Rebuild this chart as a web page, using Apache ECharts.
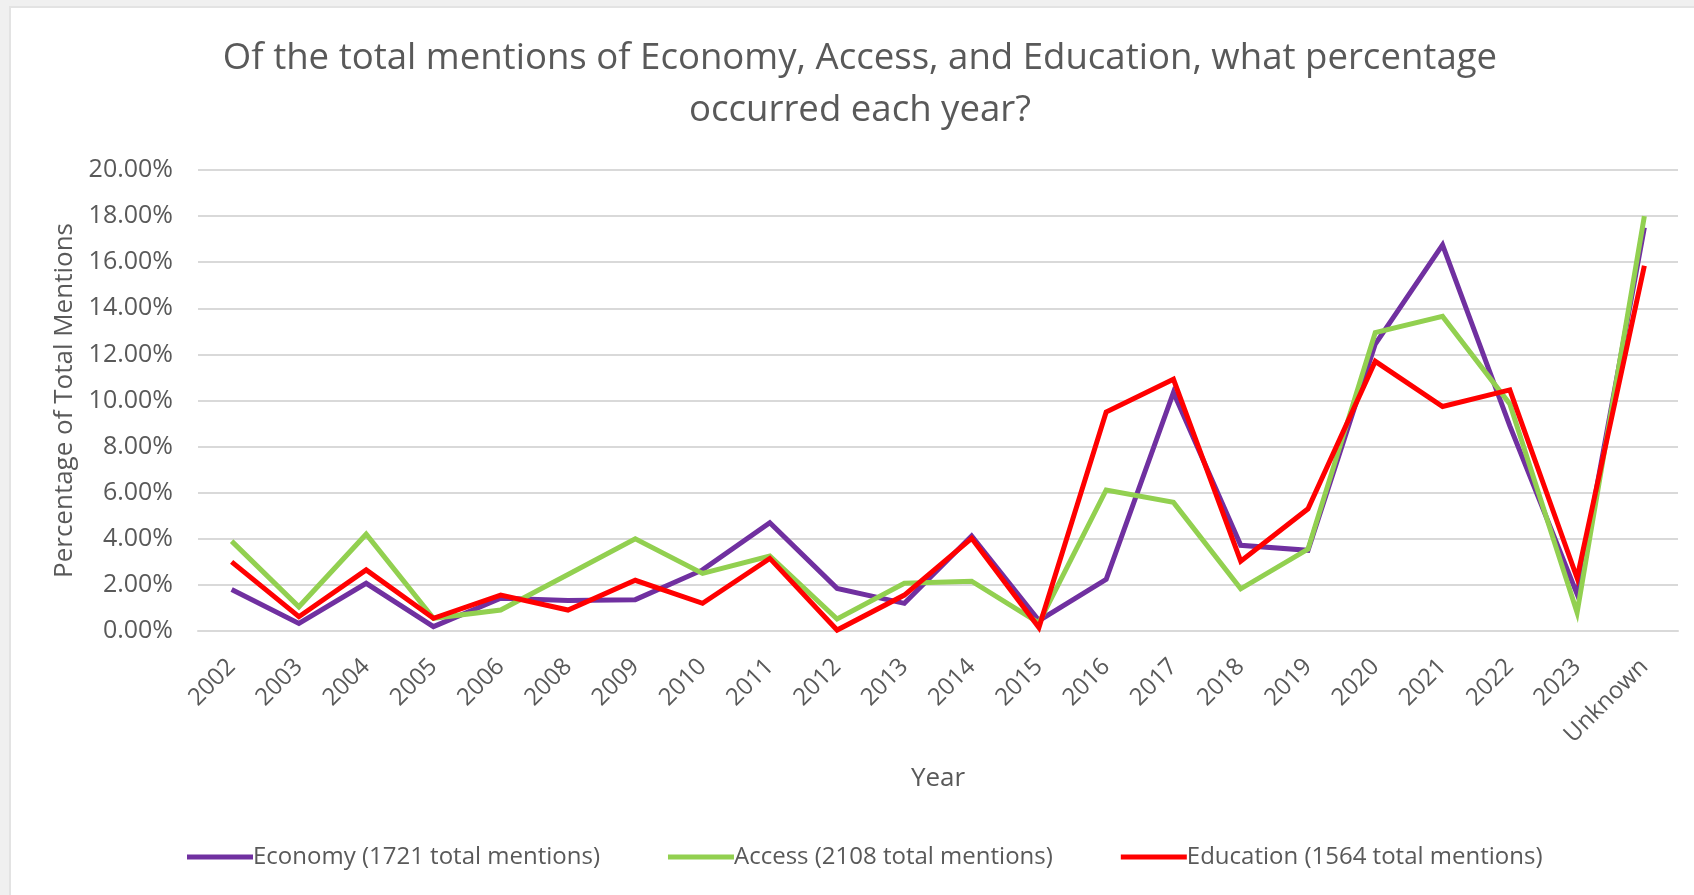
<!DOCTYPE html>
<html>
<head>
<meta charset="utf-8">
<script src="https://cdn.jsdelivr.net/npm/echarts@6/dist/echarts.min.js"></script>
<style>
  html, body { margin: 0; padding: 0; background: #f0f0f0; overflow: hidden; }
  #frame {
    position: absolute; left: 9px; top: 6px; width: 1700px; height: 900px;
    background: #ffffff; border: 2px solid #e3e3e3;
  }
  #chart { position: absolute; left: 0; top: 0; width: 1694px; height: 895px; }
</style>
</head>
<body>
<div id="frame"></div>
<div id="chart"></div>
<script>
const years = ['2002', '2003', '2004', '2005', '2006', '2008', '2009', '2010', '2011', '2012', '2013',
  '2014', '2015', '2016', '2017', '2018', '2019', '2020', '2021', '2022', '2023', 'Unknown'];

// percent of each topic's total mentions
const economy = [1.80, 0.33, 2.07, 0.19, 1.42, 1.32, 1.36, 2.65, 4.70, 1.85, 1.20,
  4.12, 0.45, 2.24, 10.35, 3.72, 3.50, 12.45, 16.75, 8.90, 1.60, 17.50];
const access = [3.90, 1.05, 4.20, 0.55, 0.91, 2.45, 4.00, 2.50, 3.25, 0.52, 2.07,
  2.16, 0.35, 6.12, 5.58, 1.83, 3.55, 12.95, 13.65, 9.85, 0.80, 18.00];
const education = [3.00, 0.62, 2.65, 0.55, 1.56, 0.91, 2.20, 1.20, 3.15, 0.04, 1.56,
  4.02, 0.15, 9.50, 10.92, 3.03, 5.30, 11.70, 9.74, 10.46, 2.30, 15.85];

const seriesNames = ['Economy (1721 total mentions)', 'Access (2108 total mentions)', 'Education (1564 total mentions)'];
const colors = ['#7030a0', '#92d050', '#ff0000'];

const font = '"Open Sans", "Noto Sans", sans-serif';
const textColor = '#595959';

const chart = echarts.init(document.getElementById('chart'), null, { renderer: 'canvas' });

const makeLine = (name, data, color) => ({
  name,
  type: 'line',
  data,
  symbol: 'none',
  lineStyle: { color, width: 5, join: 'miter' },
  itemStyle: { color },
});

chart.setOption({
  animation: false,
  textStyle: { fontFamily: font },
  title: {
    text: 'Of the total mentions of Economy, Access, and Education, what percentage\noccurred each year?',
    left: 855,
    textAlign: 'center',
    top: 28,
    textStyle: {
      fontFamily: font, fontSize: 36.6, fontWeight: 'normal', color: textColor, lineHeight: 52,
    },
  },
  legend: {
    left: 187,
    top: 845,
    padding: 0,
    itemWidth: 66,
    itemHeight: 5,
    itemGap: 68,
    icon: 'rect',
    textStyle: { fontFamily: font, fontSize: 24, color: textColor, padding: [0, 0, 0, -5] },
    data: seriesNames,
  },
  grid: { left: 198, right: 16, top: 170, bottom: 264 },
  xAxis: {
    type: 'category',
    data: years,
    boundaryGap: true,
    name: 'Year',
    nameLocation: 'middle',
    nameGap: 135,
    nameTextStyle: { fontFamily: font, fontSize: 26, color: textColor },
    axisLine: { lineStyle: { color: '#d9d9d9', width: 2 } },
    axisTick: { show: false },
    axisLabel: {
      rotate: 45, fontFamily: font, fontSize: 24, color: textColor, margin: 32, interval: 0,
    },
  },
  yAxis: {
    type: 'value',
    min: 0,
    max: 20,
    interval: 2,
    name: 'Percentage of Total Mentions',
    nameLocation: 'middle',
    nameGap: 115,
    nameTextStyle: { fontFamily: font, fontSize: 26, color: textColor },
    axisLine: { show: false },
    axisTick: { show: false },
    splitLine: { lineStyle: { color: '#d9d9d9', width: 2 } },
    axisLabel: {
      fontFamily: font, fontSize: 25, color: textColor, margin: 25,
      formatter: (v) => `${v.toFixed(2)}%`,
    },
  },
  series: [
    makeLine(seriesNames[0], economy, colors[0]),
    makeLine(seriesNames[1], access, colors[1]),
    makeLine(seriesNames[2], education, colors[2]),
  ],
});
</script>
</body>
</html>
